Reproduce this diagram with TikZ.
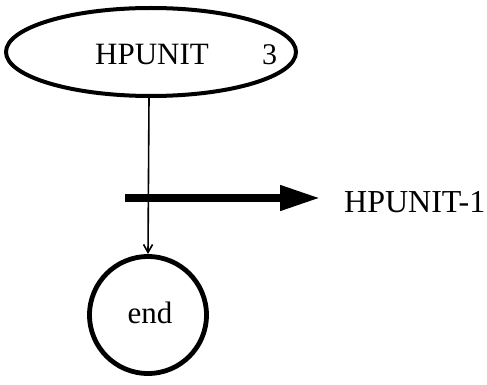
\documentclass[tikz,border=0pt]{standalone}
\usepackage{fontspec}
\setmainfont{Liberation Serif}
\usetikzlibrary{shapes.geometric,arrows.meta}
\begin{document}
\begin{tikzpicture}[x=1pt,y=-1pt,
  lbl/.style={font=\fontsize{30}{33}\selectfont},
  thin/.style={line width=1.6pt,-{Straight Barb[length=8pt,width=9pt]}},
  thick/.style={line width=7.5pt,-{Triangle[length=40pt,width=24pt]}}]
\useasboundingbox (0,0) rectangle (487,385);
\node[draw,ellipse,line width=4pt,minimum width=290pt,minimum height=88pt,inner sep=0pt] (hp) at (151,52) {};
\node[lbl,anchor=base west,inner sep=0pt,font=\fontsize{31}{33}\selectfont] (hpt) at (95,65) {HPUNIT};
\node[lbl,anchor=base west,inner sep=0pt] (three) at (262,65) {3};
\node[draw,circle,line width=4.8pt,minimum size=117pt,inner sep=0pt] (end) at (148,315) {};
\node[lbl,anchor=base,inner sep=0pt,font=\fontsize{31}{33}\selectfont] (endt) at (150,323) {end};
\draw[thin] (149,98) -- (end.north);
\coordinate (s) at (125,198);
\node[lbl,anchor=base west,inner sep=0pt,font=\fontsize{32}{35}\selectfont] (out) at (344,212) {HPUNIT-1};
\coordinate (tip) at (320,198);
\draw[thick] (s) -- (tip);
\end{tikzpicture}
\end{document}
